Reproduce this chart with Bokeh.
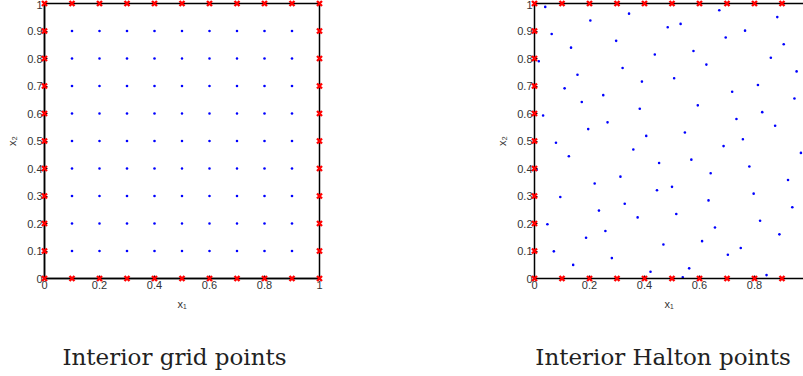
from bokeh.plotting import figure
from bokeh.layouts import row, column
from bokeh.models import FixedTicker, Range1d, Label, LinearAxis
from bokeh.embed import file_html
from bokeh.resources import INLINE

# ---- data ----
grid_vals = [0.1, 0.2, 0.3, 0.4, 0.5, 0.6, 0.7, 0.8, 0.9]
boundary_vals = [0.0, 0.1, 0.2, 0.3, 0.4, 0.5, 0.6, 0.7, 0.8, 0.9, 1.0]

halton_x = [0.5, 0.25, 0.75, 0.125, 0.625, 0.375, 0.875, 0.0625, 0.5625,
            0.3125, 0.8125, 0.1875, 0.6875, 0.4375, 0.9375, 0.0313, 0.5313, 0.2813,
            0.7813, 0.1563, 0.6563, 0.4063, 0.9063, 0.0938, 0.5938, 0.3438, 0.8438,
            0.2188, 0.7188, 0.4688, 0.9688, 0.0156, 0.5156, 0.2656, 0.7656, 0.1406,
            0.6406, 0.3906, 0.8906, 0.0781, 0.5781, 0.3281, 0.8281, 0.2031, 0.7031,
            0.4531, 0.9531, 0.0469, 0.5469, 0.2969, 0.7969, 0.1719, 0.6719, 0.4219,
            0.9219, 0.1094, 0.6094, 0.3594, 0.8594, 0.2344, 0.7344, 0.4844, 0.9844,
            0.0078, 0.5078, 0.2578, 0.7578, 0.1328, 0.6328, 0.3828, 0.8828, 0.0703,
            0.5703, 0.3203, 0.8203, 0.1953, 0.6953, 0.4453, 0.9453, 0.0391, 0.5391]
halton_y = [0.3333, 0.6667, 0.1111, 0.4444, 0.7778, 0.2222, 0.5556, 0.8889, 0.0370,
            0.3704, 0.7037, 0.1481, 0.4815, 0.8148, 0.2593, 0.5926, 0.9259, 0.0741,
            0.4074, 0.7407, 0.1852, 0.5185, 0.8519, 0.2963, 0.6296, 0.9630, 0.0123,
            0.3457, 0.6790, 0.1235, 0.4568, 0.7901, 0.2346, 0.5679, 0.9012, 0.0494,
            0.3827, 0.7160, 0.1605, 0.4938, 0.8272, 0.2716, 0.6049, 0.9383, 0.0864,
            0.4198, 0.7531, 0.1975, 0.5309, 0.8642, 0.3086, 0.6420, 0.9753, 0.0247,
            0.3580, 0.6914, 0.1358, 0.4691, 0.8025, 0.2469, 0.5802, 0.9136, 0.0617,
            0.3951, 0.7284, 0.1728, 0.5062, 0.8395, 0.2840, 0.6173, 0.9506, 0.0988,
            0.4321, 0.7654, 0.2099, 0.5432, 0.8765, 0.3210, 0.6543, 0.9877, 0.0041]

x_ticks = [0, 0.2, 0.4, 0.6, 0.8, 1]
x_tick_labels = ["0", "0.2", "0.4", "0.6", "0.8", "1"]
y_ticks = [0, 0.1, 0.2, 0.3, 0.4, 0.5, 0.6, 0.7, 0.8, 0.9, 1]
y_tick_labels = ["0", "0.1", "0.2", "0.3", "0.4", "0.5", "0.6", "0.7", "0.8", "0.9", "1"]

captions = ["Interior grid points", "Interior Halton points"]

# derived tables
grid_x = [gx for gx in grid_vals for gy in grid_vals]
grid_y = [gy for gx in grid_vals for gy in grid_vals]
bnd_x = boundary_vals + boundary_vals + [0.0] * 9 + [1.0] * 9
bnd_y = [0.0] * 11 + [1.0] * 11 + grid_vals + grid_vals

TICK_FONT = "Liberation Sans"
MAIN_H = 322
CAP_H = 54


def make_fig(px, py, width, xmax, mb_left, mb_right, box_right):
    p = figure(width=width, height=MAIN_H, output_backend="svg", toolbar_location=None,
               x_range=Range1d(0, xmax), y_range=Range1d(0, 1),
               min_border_left=mb_left, min_border_right=mb_right,
               min_border_top=3, min_border_bottom=MAIN_H - 3 - 275)
    p.grid.visible = False
    p.outline_line_color = "black" if box_right else None
    p.outline_line_width = 1.5
    p.background_fill_color = "white"
    p.border_fill_color = "white"

    for ax, ticks, labels, lab in ((p.xaxis[0], x_ticks, x_tick_labels, "x\u2081"),
                                   (p.yaxis[0], y_ticks, y_tick_labels, "x\u2082")):
        ax.ticker = FixedTicker(ticks=ticks)
        ax.major_label_overrides = dict(zip(ticks, labels))
        ax.axis_line_color = "black"
        ax.axis_line_width = 1.5
        ax.major_tick_in = 3
        ax.major_tick_out = 0
        ax.major_tick_line_color = "black"
        ax.minor_tick_line_color = None
        ax.major_label_text_font = TICK_FONT
        ax.major_label_text_font_size = "11px"
        ax.major_label_text_color = "#333333"
        ax.major_label_standoff = 2
        ax.axis_label = lab
        ax.axis_label_text_font = TICK_FONT
        ax.axis_label_text_font_size = "11px"
        ax.axis_label_text_font_style = "normal"
        ax.axis_label_text_color = "#333333"
        ax.axis_label_standoff = 6

    if not box_right:
        top = LinearAxis(ticker=FixedTicker(ticks=[]), axis_line_color="black",
                         axis_line_width=1.5, major_tick_line_color=None,
                         minor_tick_line_color=None, major_label_text_font_size="0px")
        p.add_layout(top, "above")

    p.scatter(px, py, marker="circle", size=2.6, color="#0000ff", line_width=0)
    r = p.scatter(bnd_x, bnd_y, marker="x", size=7, line_color="#ff0000", line_width=2.4)
    r.level = "overlay"
    return p


def make_caption(text, width, cx):
    c = figure(width=width, height=CAP_H, output_backend="svg", toolbar_location=None,
               x_range=Range1d(0, 1), y_range=Range1d(0, 1),
               x_axis_type=None, y_axis_type=None, min_border=0)
    c.grid.visible = False
    c.outline_line_color = None
    c.background_fill_color = "white"
    c.border_fill_color = "white"
    c.add_layout(Label(x=cx, y=20, x_units="screen", y_units="screen", text=text,
                       text_align="center", text_baseline="alphabetic",
                       text_font="DejaVu Serif", text_font_size="23px",
                       text_color="#222222"))
    return c


p1 = make_fig(grid_x, grid_y, 490, 1.0, 44, 171, True)
p2 = make_fig(halton_x, halton_y, 313, 269 / 275, 44, 0, False)
c1 = make_caption(captions[0], 490, 174)
c2 = make_caption(captions[1], 313, 172.5)

p = column(row(p1, p2), row(c1, c2))
open("out.html", "w").write(file_html(p, INLINE))
